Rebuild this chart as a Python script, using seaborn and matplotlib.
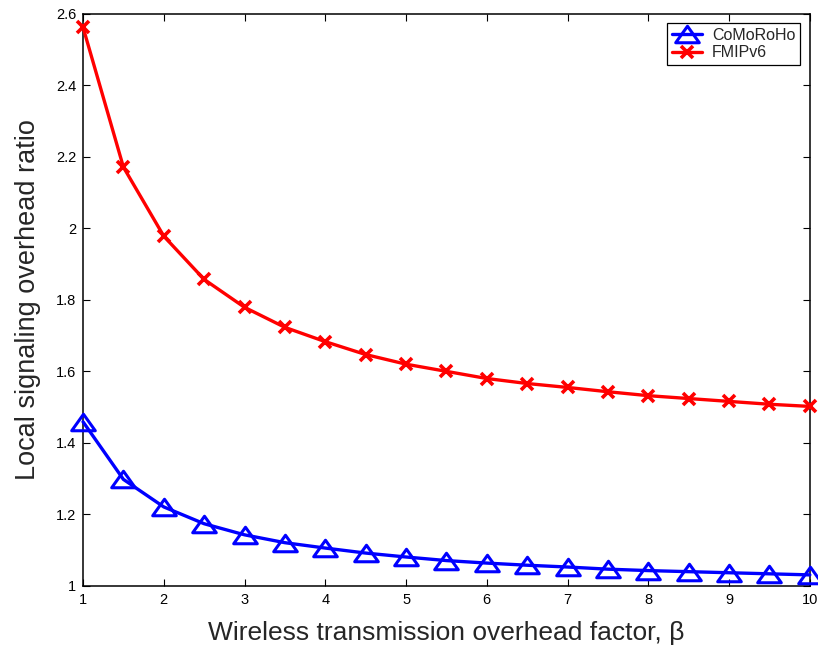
import numpy as np
import pandas as pd
import matplotlib
matplotlib.use("Agg")
import matplotlib.pyplot as plt
from matplotlib.path import Path
from matplotlib.ticker import FixedLocator, FixedFormatter
import seaborn as sns

# Wireless transmission overhead factor (beta)
beta = [1, 1.5, 2, 2.5, 3, 3.5, 4, 4.5, 5, 5.5, 6, 6.5, 7, 7.5, 8, 8.5, 9, 9.5, 10]

# Local signaling overhead ratio for each scheme
comorho = [1.459, 1.298, 1.221, 1.174, 1.143, 1.121, 1.106, 1.092, 1.081, 1.071,
           1.064, 1.058, 1.053, 1.047, 1.043, 1.040, 1.037, 1.034, 1.031]
fmipv6 = [2.562, 2.171, 1.978, 1.857, 1.779, 1.723, 1.683, 1.647, 1.620, 1.600,
          1.580, 1.566, 1.555, 1.543, 1.532, 1.524, 1.516, 1.508, 1.502]

series_names = ["CoMoRoHo", "FMIPv6"]
x_ticks = [1, 2, 3, 4, 5, 6, 7, 8, 9, 10]
x_ticklabels = ["1", "2", "3", "4", "5", "6", "7", "8", "9", "10"]
y_ticks = [1.0, 1.2, 1.4, 1.6, 1.8, 2.0, 2.2, 2.4, 2.6]
y_ticklabels = ["1", "1.2", "1.4", "1.6", "1.8", "2", "2.2", "2.4", "2.6"]

df = pd.DataFrame({
    "beta": beta * 2,
    "ratio": comorho + fmipv6,
    "scheme": [series_names[0]] * len(beta) + [series_names[1]] * len(beta),
})

sns.set_style("ticks")
plt.rcParams["font.family"] = ["Liberation Sans", "DejaVu Sans"]

# wide, flat open triangle
tri = Path([(0, 0.7), (-1, -0.7), (1, -0.7), (0, 0.7)],
           [Path.MOVETO, Path.LINETO, Path.LINETO, Path.CLOSEPOLY])

fig = plt.figure(figsize=(8.18, 6.5), dpi=100)
ax = fig.add_axes([0.1015, 0.0985, 0.8885, 0.8805])

sns.lineplot(data=df[df.scheme == series_names[0]], x="beta", y="ratio",
             ax=ax, color="#0000ff", lw=2.4, marker=tri, ms=17,
             mfc="none", mec="#0000ff", mew=2.2, label=series_names[0],
             clip_on=False, zorder=3)
sns.lineplot(data=df[df.scheme == series_names[1]], x="beta", y="ratio",
             ax=ax, color="#ff0000", lw=2.4, marker="x", ms=8,
             mec="#ff0000", mew=2.6, label=series_names[1],
             clip_on=False, zorder=3)

ax.set_xlim(1, 10)
ax.set_ylim(1, 2.6)
ax.xaxis.set_major_locator(FixedLocator(x_ticks))
ax.xaxis.set_major_formatter(FixedFormatter(x_ticklabels))
ax.yaxis.set_major_locator(FixedLocator(y_ticks))
ax.yaxis.set_major_formatter(FixedFormatter(y_ticklabels))

for side in ["top", "right", "left", "bottom"]:
    ax.spines[side].set_visible(True)
    ax.spines[side].set_linewidth(1.1)
    ax.spines[side].set_color("black")

ax.tick_params(direction="in", top=True, right=True, length=5, width=0.8,
               labelsize=10.5, colors="black", pad=5)

ax.set_xlabel("Wireless transmission overhead factor, β", fontsize=19, labelpad=10)
ax.set_ylabel("Local signaling overhead ratio", fontsize=19.5, labelpad=11)

leg = ax.legend(loc="upper right", fontsize=11.5, fancybox=False, framealpha=1,
                edgecolor="black", handlelength=1.9, borderpad=0.3,
                labelspacing=0.15, borderaxespad=0.6, handletextpad=0.6)
leg.get_frame().set_linewidth(0.9)

fig.savefig("out.png", dpi=100)
